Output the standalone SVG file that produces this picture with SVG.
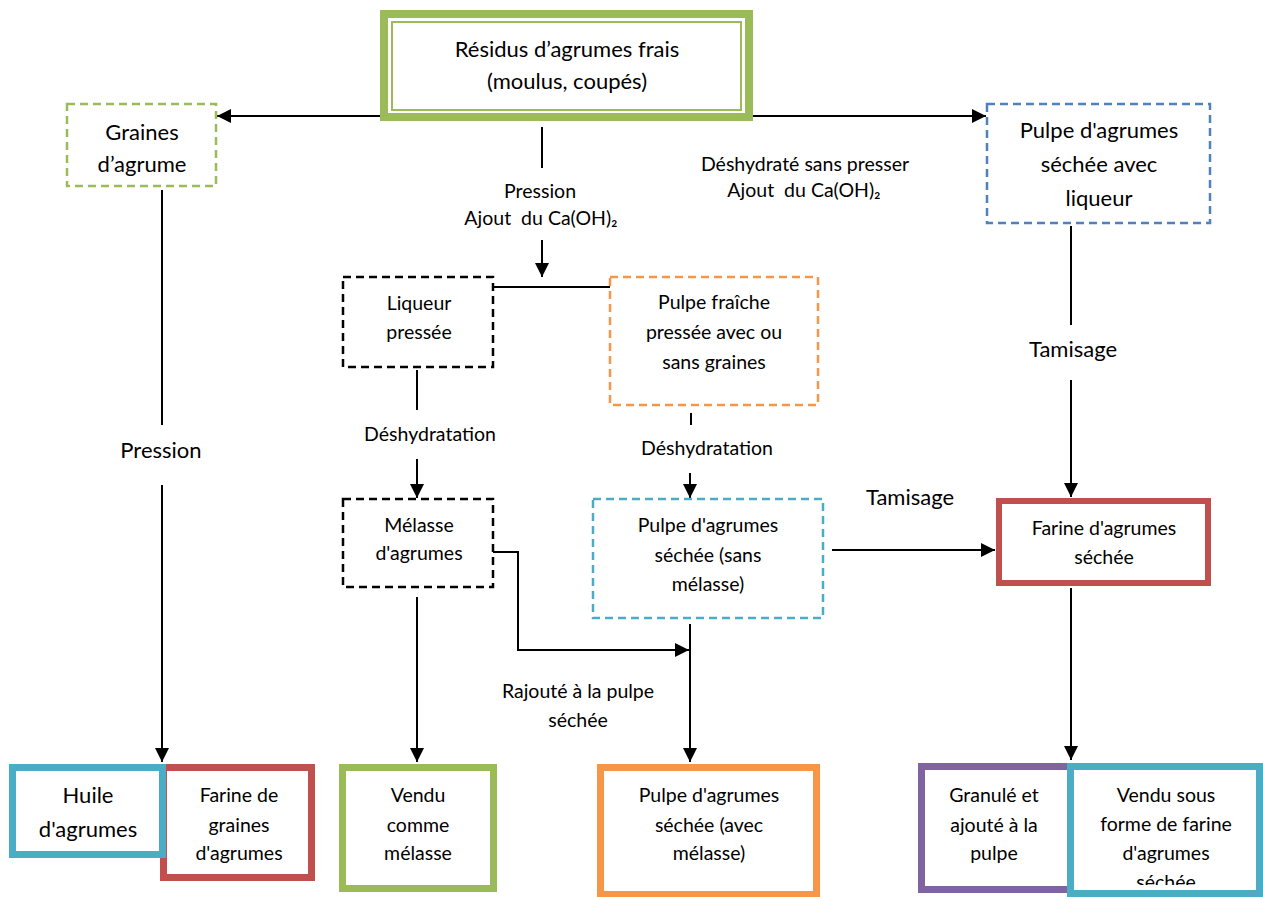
<svg xmlns="http://www.w3.org/2000/svg" width="1263" height="897" viewBox="0 0 1263 897">
<style>
text{font-family:Lato,"Liberation Sans",sans-serif;fill:#000;text-anchor:middle}
.b{font-size:22px}
.n{font-size:19.5px}
.p{white-space:pre}
.d{fill:none;stroke-width:2.5;stroke-dasharray:8 5}
.c line,.c polyline{stroke:#000;stroke-width:2;fill:none}
.a{marker-end:url(#ah)}
</style>
<defs>
<marker id="ah" viewBox="0 0 12 12" refX="12" refY="6" markerWidth="14" markerHeight="14" markerUnits="userSpaceOnUse" orient="auto">
<path d="M0,0 L12,6 L0,12 z" fill="#000"/>
</marker>
<clipPath id="clipB"><rect x="1073" y="769" width="184" height="116"/></clipPath>
</defs>
<rect width="1263" height="897" fill="#fff"/>

<g class="c" id="connectors">
<line class="a" x1="387" y1="116" x2="217" y2="116"/>
<line class="a" x1="745" y1="116" x2="986" y2="116"/>
<line x1="542" y1="127" x2="542" y2="168"/>
<line class="a" x1="542" y1="240" x2="542" y2="277"/>
<line x1="493" y1="287" x2="610" y2="287"/>
<line x1="417" y1="370" x2="417" y2="410"/>
<line class="a" x1="417" y1="459" x2="417" y2="498"/>
<line x1="691" y1="413" x2="691" y2="425"/>
<line class="a" x1="690" y1="473" x2="690" y2="498"/>
<polyline class="a" points="493,552 518,552 518,650 689,650"/>
<line class="a" x1="417" y1="597" x2="417" y2="762"/>
<line class="a" x1="690" y1="624" x2="690" y2="762"/>
<line class="a" x1="832" y1="550" x2="995" y2="550"/>
<line x1="162" y1="190" x2="162" y2="425"/>
<line class="a" x1="162" y1="485" x2="162" y2="762"/>
<line x1="1071" y1="226" x2="1071" y2="325"/>
<line class="a" x1="1071" y1="380" x2="1071" y2="497"/>
<line class="a" x1="1071" y1="588" x2="1071" y2="760"/>
</g>

<g id="labels">
<text class="n" x="540" y="198">Pression</text>
<text class="n p" x="541" y="225" xml:space="preserve">Ajout  du Ca(OH)₂</text>
<text class="n" x="805" y="171">Déshydraté sans presser</text>
<text class="n p" x="804" y="197" xml:space="preserve">Ajout  du Ca(OH)₂</text>
<text class="n" x="430" y="441">Déshydratation</text>
<text class="n" x="707" y="455">Déshydratation</text>
<text class="n" x="578" y="698">Rajouté à la pulpe</text>
<text class="n" x="578" y="727">séchée</text>
<text class="b" x="910" y="505">Tamisage</text>
<text class="b" x="1073" y="357">Tamisage</text>
<text class="b" x="161" y="458">Pression</text>
</g>

<g id="n-residus">
<rect x="384" y="14" width="365" height="103" fill="#fff" stroke="#9bbb59" stroke-width="8"/>
<rect x="392" y="22" width="349" height="88" fill="none" stroke="#9bbb59" stroke-width="2"/>
<text class="b" x="567" y="57">Résidus d’agrumes frais</text>
<text class="b" x="567" y="89">(moulus, coupés)</text>
</g>

<g id="n-graines">
<rect class="d" x="67" y="104" width="149" height="82" stroke="#9bbb59"/>
<text class="b" x="142" y="140">Graines</text>
<text class="b" x="142" y="172">d’agrume</text>
</g>

<g id="n-pulpe-liqueur">
<rect class="d" x="987" y="104" width="223" height="119" stroke="#4f81bd"/>
<text class="b" x="1099" y="138">Pulpe d'agrumes</text>
<text class="b" x="1099" y="172">séchée avec</text>
<text class="b" x="1099" y="206">liqueur</text>
</g>

<g id="n-liqueur">
<rect class="d" x="343" y="277" width="150" height="90" stroke="#000"/>
<text class="n" x="419" y="310">Liqueur</text>
<text class="n" x="419" y="339">pressée</text>
</g>

<g id="n-pulpe-fraiche">
<rect class="d" x="610" y="277" width="208" height="128" stroke="#f79646"/>
<text class="n" x="714" y="309">Pulpe fraîche</text>
<text class="n" x="714" y="339">pressée avec ou</text>
<text class="n" x="714" y="369">sans graines</text>
</g>

<g id="n-melasse">
<rect class="d" x="343" y="499" width="150" height="88" stroke="#000"/>
<text class="n" x="419" y="532">Mélasse</text>
<text class="n" x="419" y="560">d'agrumes</text>
</g>

<g id="n-pulpe-sechee">
<rect class="d" x="593" y="499" width="230" height="119" stroke="#4bacc6"/>
<text class="n" x="708" y="532">Pulpe d'agrumes</text>
<text class="n" x="708" y="562">séchée (sans</text>
<text class="n" x="708" y="591">mélasse)</text>
</g>

<g id="n-farine">
<rect x="999" y="501" width="209" height="82" fill="#fff" stroke="#c0504d" stroke-width="6"/>
<text class="n" x="1104" y="535">Farine d'agrumes</text>
<text class="n" x="1104" y="564">séchée</text>
</g>

<g id="n-farine-graines">
<rect x="163.5" y="767.5" width="148" height="110" fill="#fff" stroke="#c0504d" stroke-width="7"/>
<text class="n" x="239" y="802">Farine de</text>
<text class="n" x="239" y="832">graines</text>
<text class="n" x="239" y="860">d'agrumes</text>
</g>

<g id="n-huile">
<rect x="12.5" y="767.5" width="150" height="87" fill="#fff" stroke="#4bacc6" stroke-width="7"/>
<text class="b" x="88" y="803">Huile</text>
<text class="b" x="88" y="837">d'agrumes</text>
</g>

<g id="n-vendu-melasse">
<rect x="342.5" y="767.5" width="151" height="121" fill="#fff" stroke="#9bbb59" stroke-width="7"/>
<text class="n" x="418" y="802">Vendu</text>
<text class="n" x="418" y="832">comme</text>
<text class="n" x="418" y="860">mélasse</text>
</g>

<g id="n-pulpe-avec">
<rect x="600.5" y="767.5" width="216" height="127" fill="#fff" stroke="#f79646" stroke-width="7"/>
<text class="n" x="709" y="802">Pulpe d'agrumes</text>
<text class="n" x="709" y="832">séchée (avec</text>
<text class="n" x="709" y="860">mélasse)</text>
</g>

<g id="n-granule">
<rect x="921.5" y="766.5" width="152" height="123" fill="#fff" stroke="#8064a2" stroke-width="7"/>
<text class="n" x="994" y="802">Granulé et</text>
<text class="n" x="994" y="832">ajouté à la</text>
<text class="n" x="994" y="860">pulpe</text>
</g>

<g id="n-vendu-farine">
<rect x="1070.5" y="766.5" width="189" height="127" fill="#fff" stroke="#4bacc6" stroke-width="7"/>
<g clip-path="url(#clipB)">
<text class="n" x="1166" y="802">Vendu sous</text>
<text class="n" x="1166" y="831">forme de farine</text>
<text class="n" x="1166" y="860">d'agrumes</text>
<text class="n" x="1166" y="889">séchée</text>
</g>
</g>
</svg>
